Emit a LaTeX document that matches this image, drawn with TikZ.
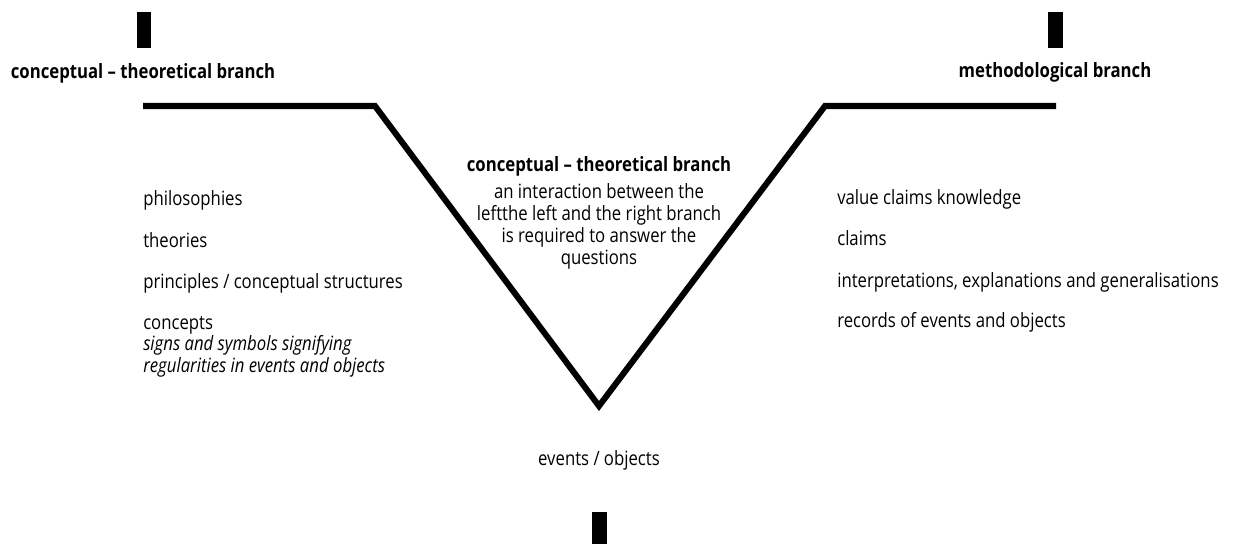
\documentclass[tikz,border=0pt]{standalone}
\usepackage{fontspec}
\setmainfont{Open Sans}[FakeStretch=0.85]

\tikzset{
  txt/.style={font=\fontsize{14}{15.6}\selectfont, inner sep=0pt},
  head/.style={font=\fontsize{14}{15.6}\selectfont\bfseries, inner sep=0pt},
  bar/.style={fill=black},
  vee/.style={line width=4.3pt, line join=miter}
}

\begin{document}
\begin{tikzpicture}[x=0.025cm, y=-0.025cm]

% Frame, in pixels of the reference
\useasboundingbox (0,0) rectangle (1234,544);

% Markers above the branches and below the vertex
\fill[bar] (137,12) rectangle (151,48);
\fill[bar] (1048,12) rectangle (1063,48);
\fill[bar] (592,512) rectangle (607,544);

% Branch titles
\node[head, anchor=base] (lefthead) at (143,79) {conceptual -- theoretical branch};
\node[head, anchor=base] (righthead) at (1055,78) {methodological branch};

% The V
\draw[vee] (143,106) -- (375,106) -- (599,406) -- (825,106) -- (1056,106);

% Centre note
\node[head, anchor=base] (midhead) at (599,172) {conceptual -- theoretical branch};
\node[txt, align=center, anchor=north] (midtext) at (599,183)
  {an interaction between the\\leftthe left and the right branch\\is required to answer the\\questions};

% Left branch items
\foreach \y/\t [count=\i] in {206/philosophies, 248/theories, 288/{principles / conceptual structures}, 329/concepts} {
  \node[txt, anchor=base west] (left\i) at (143,\y) {\t};
}
\node[txt, anchor=base west, font=\fontsize{14}{15.6}\selectfont\itshape] (left5) at (143,350) {signs and symbols signifying};
\node[txt, anchor=base west, font=\fontsize{14}{15.6}\selectfont\itshape] (left6) at (143,372) {regularities in events and objects};

% Right branch items
\foreach \y/\t [count=\i] in {205/value claims knowledge, 246/claims, 287/{interpretations, explanations and generalisations}, 327/records of events and objects} {
  \node[txt, anchor=base west] (right\i) at (837,\y) {\t};
}

% Bottom label
\node[txt, anchor=base] (events) at (599,465) {events / objects};

\end{tikzpicture}
\end{document}
